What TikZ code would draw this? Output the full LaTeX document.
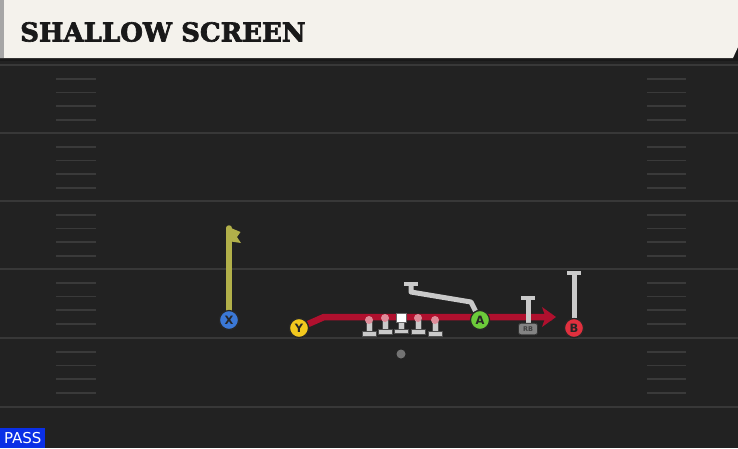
\documentclass[tikz,border=0pt]{standalone}
\usepackage{fontspec}
\setsansfont{DejaVu Sans}
\newfontfamily\titlefont[FakeBold=2.5]{DejaVu Serif Bold}
\usetikzlibrary{arrows.meta,shapes.misc}
\definecolor{fieldbg}{HTML}{222222}
\definecolor{yardline}{HTML}{383838}
\definecolor{hashc}{HTML}{3A3A3A}
\definecolor{headbg}{HTML}{F4F2EC}
\definecolor{routered}{HTML}{B0102E}
\definecolor{routeolive}{HTML}{B2B04A}
\definecolor{blockgray}{HTML}{CACACA}
\definecolor{pblue}{HTML}{3B78D6}
\definecolor{pyellow}{HTML}{F2C81E}
\definecolor{pgreen}{HTML}{6CCB3A}
\definecolor{pred}{HTML}{E0303E}
\definecolor{headpink}{HTML}{DE8C99}
\definecolor{passblue}{HTML}{0A2FE6}
\tikzset{
  player/.style={circle, minimum size=19pt, inner sep=0pt, draw=black!85, line width=1.2pt,
    font=\sffamily\bfseries\fontsize{11.5}{11.5}\selectfont, text=black!85},
  rbbadge/.style={rounded corners=2.5pt, fill=black!35!blockgray, draw=black!80, line width=0.8pt,
    minimum width=19pt, minimum height=11.5pt, inner sep=0pt,
    font=\sffamily\bfseries\fontsize{6.5}{6.5}\selectfont, text=black!75},
  blockline/.style={draw=blockgray, line width=5pt},
  capline/.style={draw=blockgray, line width=4.5pt},
  redroute/.style={draw=routered, line width=6.5pt},
  oliveroute/.style={draw=routeolive, line width=5.5pt, line cap=round},
  yard/.style={draw=yardline, line width=2.4pt},
  hashmark/.style={draw=hashc, line width=1.8pt},
  lineman/.style={fill=blockgray, draw=black!70, line width=0.7pt},
}
\begin{document}
\begin{tikzpicture}[x=1pt,y=-1pt]
\useasboundingbox (0,0) rectangle (738,448);
% field
\fill[fieldbg] (0,0) rectangle (738,448);
\foreach \yy in {65,133,201,269,338,407} \draw[yard] (0,\yy) -- (738,\yy);
\foreach \yy in {65,133,201,269,338} {
  \foreach \k in {1,2,3,4} {
    \draw[hashmark] (56,\yy+13.7*\k) -- (96,\yy+13.7*\k);
    \draw[hashmark] (647,\yy+13.7*\k) -- (686,\yy+13.7*\k);
  }
}
% header
\fill[black!90] (0,0) rectangle (738,61);
\fill[headbg] (0,0) -- (738,0) -- (738,47) -- (733,58) -- (0,58) -- cycle;
\fill[black!35] (0,0) rectangle (4,58);
\node[anchor=west, inner sep=0pt, font=\titlefont\fontsize{26}{26}\selectfont, text=black!90] (title) at (20,32) {SHALLOW SCREEN};

% players
\node[player, fill=pblue] (X) at (229,320) {X};
\node[player, fill=pyellow] (Y) at (299,328) {Y};
\node[player, fill=pgreen] (A) at (480,320) {A};
\node[player, fill=pred] (B) at (574,328) {B};
\node[rbbadge] (RB) at (528,329) {RB};

% coordinates
\coordinate (xtop) at (229,228);
\coordinate (ybend) at (324,317);
\coordinate (redend) at (552,317);
\coordinate (abend) at (471,302);
\coordinate (abend2) at (411,292);
\coordinate (atop) at (411,284);
\coordinate (rbtop) at (528,298);
\coordinate (btop) at (574,273);

% routes
\draw[oliveroute] (X) -- (xtop);
\fill[routeolive] (231,228) -- (240.5,232) -- (237,237) -- (241,243) -- (231,241.5) -- cycle;
\draw[redroute] (Y) -- (ybend) -- (redend);
\fill[routered] (542,307) -- (556,317) -- (542,327) -- (545.5,317) -- cycle;
\draw[blockline, line join=round] (A) -- (abend) -- (abend2) -- (atop);
\draw[capline] (404,284) -- (418,284);
\draw[blockline] (RB) -- (rbtop);
\draw[capline] (521,298) -- (535,298);
\draw[blockline] (B) -- (btop);
\draw[capline] (567,273) -- (581,273);

% redraw players on top
\node[player, fill=pblue] at (X) {X};
\node[player, fill=pyellow] at (Y) {Y};
\node[player, fill=pgreen] at (A) {A};
\node[player, fill=pred] at (B) {B};
\node[rbbadge] at (RB) {RB};

% linemen
\foreach \lx/\lt/\lb in {369/320/336, 385/318/334, 418/318/334, 435/320/336} {
  \filldraw[lineman] (\lx-3,\lt+1) rectangle (\lx+3,\lb-3);
  \filldraw[lineman] (\lx-7,\lb-4.5) rectangle (\lx+7,\lb);
  \fill[headpink] (\lx,\lt) circle (4pt);
}
% center
\filldraw[lineman] (398,322) rectangle (404,330);
\filldraw[lineman] (394,329) rectangle (408,333.5);
\filldraw[fill=white, draw=black!60, line width=0.7pt] (396.5,313) rectangle (406,322);
% QB / ball dot
\fill[black!55] (401,354) circle (4.5pt);

% PASS tag
\node[fill=passblue, anchor=south west, minimum width=45pt, minimum height=20pt, inner sep=0pt, text=white, font=\sffamily\fontsize{15}{15}\selectfont] (pass) at (0,448) {PASS};
\end{tikzpicture}
\end{document}
